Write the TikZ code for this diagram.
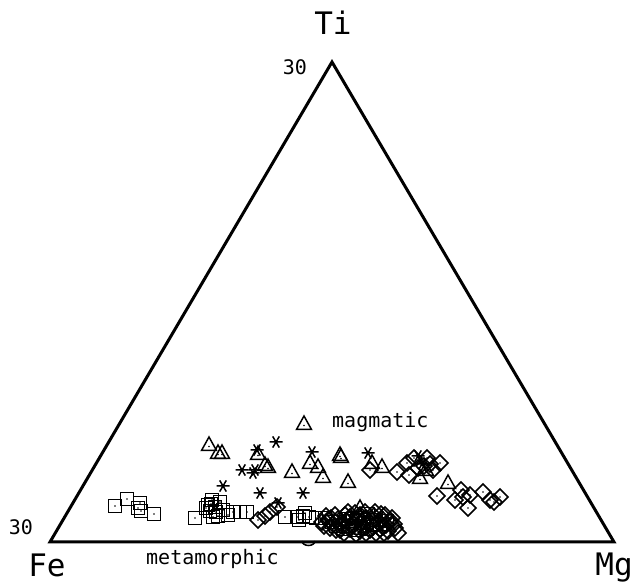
\documentclass[tikz,border=0pt]{standalone}
\usepackage{fontspec}
\setmainfont{DejaVu Sans Mono}
\begin{document}
\begin{tikzpicture}[x=1pt,y=-1pt,
  frame/.style={line width=3pt,line join=miter},
  mk/.style={line width=1.5pt},
  lab/.style={inner sep=0pt,font=\fontsize{20}{24}\selectfont},
  biglab/.style={inner sep=0pt,font=\fontsize{31}{36}\selectfont},
  sqm/.pic={\draw[mk] (-6.5,-6.5) rectangle (6.5,6.5); \fill (0,0) circle (0.8);},
  dim/.pic={\draw[mk] (0,-8) -- (8,0) -- (0,8) -- (-8,0) -- cycle; \fill (0,0) circle (0.8);},
  trm/.pic={\draw[mk] (0,-8) -- (7.5,5.5) -- (-7.5,5.5) -- cycle; \fill (0,1.5) circle (0.8);},
  asm/.pic={\draw[mk] (-6.5,0) -- (6.5,0) (-3.3,-5.6) -- (3.3,5.6) (-3.3,5.6) -- (3.3,-5.6);}
]
\useasboundingbox (0,0) rectangle (633,585);
% ternary frame
\coordinate (fe) at (50,542);
\coordinate (mg) at (614,542);
\coordinate (ti) at (332,62);
\draw[frame] (fe) -- (mg) -- (ti) -- cycle;
% labels
\node[biglab,anchor=base] (tilab) at (333,35) {Ti};
\node[biglab,anchor=base] (felab) at (47,577) {Fe};
\node[biglab,anchor=base east] (mglab) at (633,576) {Mg};
\node[lab,anchor=base] (ttop) at (295,75) {30};
\node[lab,anchor=base] (tleft) at (21,535) {30};
\node[lab,anchor=base west] (magm) at (332,428) {magmatic};
\node[lab,anchor=base west] (meta) at (146,565) {metamorphic};
\pic at (304,424) {trm};
% circle marker partly hidden at base
\draw[mk] (302,541) arc (180:0:6.5 and 4.5);
% squares left
\foreach \p in {(115,506),(127,499),(140,503),(141,511),(138,508),(154,514)}
  \pic at \p {sqm};
% squares middle
\foreach \p in {(195,518),(208,505),(212,500),(215,507),(220,502),(223,510),(213,517),(218,516),(228,515),(233,512),(240,512),(247,512),(210,511),(216,512),(206,508),(211,504)}
  \pic at \p {sqm};
\foreach \p in {(258,520),(265,516),(270,512),(277,507)}
  \pic at \p {dim};
\foreach \p in {(285,517),(297,517),(303,516),(309,517),(316,518),(299,520),(305,513)}
  \pic at \p {sqm};
% dense cluster
\foreach \p in {(322,522),(328,520),(333,524),(338,519),(342,526),(346,521),(350,517),(354,524),(358,520),(362,527),(366,518),(370,523),(374,516),(378,522),(382,519),(386,525),(390,522),(395,528),(398,533),(330,528),(340,530),(350,529),(360,531),(370,530),(380,529),(388,531),(355,513),(365,512),(345,515),(375,512),(385,515),(335,515),(326,516),(392,518),(324,526),(336,530),(344,533),(356,534),(366,533),(376,533),(384,533),(348,512),(360,515),(371,519),(381,514),(394,524),(331,518),(341,523),(352,526),(363,522),(373,527),(383,527)}
  \pic at \p {dim};
\foreach \p in {(325,518),(332,522),(340,522),(348,526),(357,518),(364,523),(372,525),(380,524),(368,514),(352,521),(343,529),(361,528),(336,526),(346,519),(376,520),(387,521),(355,530),(367,529)}
  \pic at \p {sqm};
\pic at (360,508) {trm};
% right diamonds
\foreach \p in {(397,472),(407,463),(409,475),(418,468),(427,458),(433,470),(440,463),(424,466),(414,458),(430,464),(370,470)}
  \pic at \p {dim};
\foreach \p in {(437,496),(455,500),(461,490),(463,497),(470,495),(468,508),(483,492),(490,500),(494,502),(500,497)}
  \pic at \p {dim};
% triangles
\foreach \p in {(209,445),(218,453),(222,453),(258,454),(265,465),(268,467),(292,472),(310,463),(318,467),(323,477),(340,455),(341,457),(348,482),(372,463),(382,467),(420,478),(448,483),(426,470)}
  \pic at \p {trm};
% asterisks
\foreach \p in {(276,442),(257,450),(242,470),(255,470),(253,473),(223,486),(260,493),(278,503),(303,493),(312,452),(368,453),(418,456),(422,464)}
  \pic at \p {asm};
\end{tikzpicture}
\end{document}
